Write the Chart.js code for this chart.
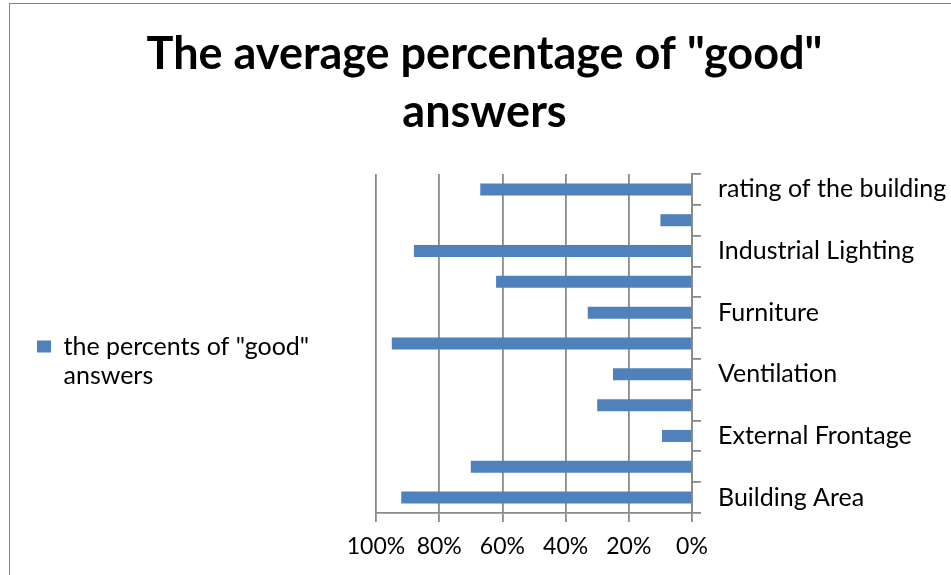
<!DOCTYPE html>
<html>
<head>
<meta charset="utf-8">
<script src="https://cdn.jsdelivr.net/npm/chart.js@4/dist/chart.umd.min.js"></script>
<style>
  html, body { margin: 0; padding: 0; overflow: hidden; background: #fff; }
  #frame {
    position: absolute; left: 9px; top: 3px;
    width: 949px; height: 571px;
    border-left: 1px solid #868686; border-top: 1px solid #868686;
  }
</style>
</head>
<body>
<div id="frame"><canvas id="myChart"></canvas></div>
<script>
// categories from top to bottom (every other one has no label shown)
const categories = [
  'rating of the building', '', 'Industrial Lighting', '', 'Furniture', '',
  'Ventilation', '', 'External Frontage', '', 'Building Area'
];
const goodPercents = [67, 10, 88, 62, 33, 95, 25, 30, 9.5, 70, 92];
const seriesName = ['the percents of "good"', 'answers'];
const titleLines = ['The average percentage of "good"', 'answers'];
const xTicks = [0, 20, 40, 60, 80, 100];

const barColor = '#4F81BD';
const axisGray = '#8a8a8a';
const font = 'Lato';

// widen the legend box so the plot starts further right
const legendWidth = {
  id: 'legendWidth',
  beforeInit(chart) {
    const fit = chart.legend.fit;
    chart.legend.fit = function () {
      fit.call(this);
      this.width = 366;
    };
  }
};

const ctx = document.getElementById('myChart').getContext('2d');
const myChart = new Chart(ctx, {
  type: 'bar',
  data: {
    labels: categories,
    datasets: [{
      label: seriesName.join(' '),
      data: goodPercents,
      backgroundColor: barColor,
      borderWidth: 0,
      barPercentage: 0.39,
      categoryPercentage: 1
    }]
  },
  plugins: [legendWidth],
  options: {
    indexAxis: 'y',
    responsive: true,
    maintainAspectRatio: false,
    animation: false,
    layout: { padding: 0 },
    plugins: {
      title: {
        display: true,
        text: titleLines,
        color: '#000',
        font: { family: font, size: 45, weight: 'bold', lineHeight: '58px' },
        padding: { top: 21, bottom: 33 }
      },
      legend: {
        position: 'left',
        align: 'center',
        fullSize: false,
        // empty title only pushes the entry a little below the middle
        title: { display: true, text: '', padding: 0, font: { lineHeight: '39px' } },
        labels: {
          color: '#000',
          font: { family: font, size: 25, lineHeight: '29px' },
          boxWidth: 14,
          boxHeight: 12,
          padding: 27,
          generateLabels(chart) {
            const items = Chart.defaults.plugins.legend.labels.generateLabels(chart);
            items.forEach(it => { it.text = seriesName; it.lineWidth = 0; });
            return items;
          }
        }
      },
      tooltip: { enabled: false }
    },
    scales: {
      x: {
        type: 'linear',
        reverse: true,
        min: 0,
        max: 100,
        afterBuildTicks(scale) {
          scale.ticks = xTicks.map(v => ({ value: v }));
        },
        afterFit(scale) { scale.height = 62; },
        grid: {
          color: axisGray,
          lineWidth: 1.8,
          tickLength: 9,
          tickColor: axisGray
        },
        border: { color: axisGray, width: 1.8 },
        ticks: {
          color: '#000',
          padding: 11,
          autoSkip: false,
          maxRotation: 0,
          minRotation: 0,
          font: { family: font, size: 23 },
          callback: v => v + '%'
        }
      },
      y: {
        position: 'right',
        afterFit(scale) { scale.width = 949 - 682; },
        grid: {
          offset: true,
          drawOnChartArea: false,
          tickLength: 9,
          tickColor: axisGray,
          lineWidth: 1.8
        },
        border: { color: axisGray, width: 1.8 },
        ticks: {
          autoSkip: false,
          color: '#000',
          padding: 17,
          font: { family: font, size: 25 }
        }
      }
    }
  }
});
</script>
</body>
</html>
